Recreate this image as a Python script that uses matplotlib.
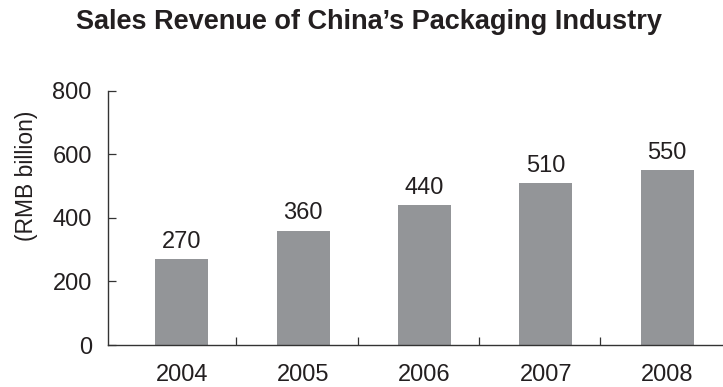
import matplotlib
matplotlib.use("Agg")
import matplotlib.pyplot as plt
from matplotlib.ticker import FixedLocator

years = ["2004", "2005", "2006", "2007", "2008"]
revenue = [270, 360, 440, 510, 550]
yticks = [0, 200, 400, 600, 800]

plt.rcParams["font.family"] = ["Liberation Sans", "DejaVu Sans"]
text_color = "#231f20"
bar_color = "#939598"
axis_color = "#333333"

fig = plt.figure(figsize=(7.23, 3.87), dpi=100)
ax = fig.add_axes([0.149, 0.1085, 0.851, 0.657])

x = list(range(len(years)))
ax.bar(x, revenue, width=0.435, color=bar_color, zorder=2)

for xi, v in zip(x, revenue):
    ax.annotate(str(v), (xi, v), xytext=(0, 4.5), textcoords="offset points",
                ha="center", va="bottom", fontsize=17, color=text_color)

ax.set_xlim(-0.61, 4.46)
ax.set_ylim(0, 800)
ax.set_yticks(yticks)
ax.set_yticklabels([str(t) for t in yticks])
ax.set_xticks(x)
ax.set_xticklabels(years)
ax.xaxis.set_minor_locator(FixedLocator([i + 0.45 for i in range(4)]))

ax.tick_params(axis="x", which="major", length=0, pad=14, labelsize=17,
               labelcolor=text_color)
ax.tick_params(axis="x", which="minor", direction="in", length=6,
               width=0.9, color=axis_color)
ax.tick_params(axis="y", direction="in", length=6, width=0.9,
               color=axis_color, pad=11.5, labelsize=17, labelcolor=text_color)

for side in ("top", "right"):
    ax.spines[side].set_visible(False)
for side in ("left", "bottom"):
    ax.spines[side].set_color(axis_color)
    ax.spines[side].set_linewidth(1.0)

fig.text(0.036, 0.545, "(RMB billion)", rotation=90, ha="center", va="center",
         fontsize=16.5, color=text_color)
fig.text(0.511, 0.925, "Sales Revenue of China\u2019s Packaging Industry",
         ha="center", va="baseline", fontsize=19.5, fontweight="bold",
         color=text_color)

fig.savefig("out.png", dpi=100)
